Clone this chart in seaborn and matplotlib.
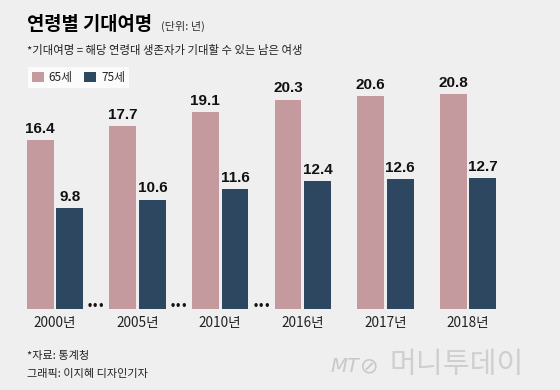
import pandas as pd
import matplotlib.pyplot as plt
import seaborn as sns
from matplotlib.patches import Patch

# data
years = ['2000년', '2005년', '2010년', '2016년', '2017년', '2018년']
age65 = [16.4, 17.7, 19.1, 20.3, 20.6, 20.8]
age75 = [9.8, 10.6, 11.6, 12.4, 12.6, 12.7]
groups = ['65세', '75세']
colors = {'65세': '#c49a9f', '75세': '#2e4760'}

df = pd.DataFrame({
    'year': years * 2,
    'age': [groups[0]] * len(years) + [groups[1]] * len(years),
    'value': age65 + age75,
})

sns.set_style('white')
plt.rcParams['font.family'] = ['Noto Sans CJK KR', 'DejaVu Sans']
bg = '#efefef'

fig = plt.figure(figsize=(5.6, 3.9), dpi=100, facecolor=bg)
ax = fig.add_axes([13.7 / 560, 81 / 390, 495.6 / 560, 227 / 390])
ax.set_facecolor(bg)

sns.barplot(data=df, x='year', y='value', hue='age', palette=colors,
            width=0.72, gap=0.1, ax=ax, legend=False, saturation=1,
            linewidth=0, edgecolor='none')

for c in ax.containers:
    ax.bar_label(c, fmt='%.1f', padding=3, fontsize=11, fontweight='bold',
                 family='Liberation Sans', color='#111111')

# dots between non-consecutive years
for i in range(3):
    ax.text(i + 0.5, 0, '•••', ha='center', va='baseline', fontsize=7,
            fontweight='bold', color='#111111', family='DejaVu Sans')

ax.set_xlim(-0.5, len(years) - 0.5)
ax.set_ylim(0, 22)
ax.set_xlabel('')
ax.set_ylabel('')
ax.set_yticks([])
ax.tick_params(axis='x', length=0, pad=5, labelsize=9.8, labelcolor='#222222')
sns.despine(ax=ax, left=True, bottom=True)

# title block
fig.text(27 / 560, 1 - 24 / 390, '연령별 기대여명', fontsize=13.5, fontweight='heavy',
         va='center', ha='left', color='#000000')
fig.text(161 / 560, 1 - 26 / 390, '(단위: 년)', fontsize=8, va='center',
         ha='left', color='#333333')
fig.text(27 / 560, 1 - 50 / 390, '*기대여명 = 해당 연령대 생존자가 기대할 수 있는 남은 여생',
         fontsize=8.2, va='center', ha='left', color='#222222')

handles = [Patch(facecolor=colors[g], edgecolor='none', label=g) for g in groups]
leg = fig.legend(handles=handles, loc='upper left', ncol=2,
                 bbox_to_anchor=(28 / 560, 1 - 67 / 390), frameon=True,
                 fancybox=False, borderaxespad=0, fontsize=8.5,
                 handlelength=1.0, handleheight=1.0, handletextpad=0.4,
                 columnspacing=1.0, borderpad=0.35)
leg.get_frame().set_facecolor('white')
leg.get_frame().set_edgecolor('none')

# footer
fig.text(27 / 560, 1 - 356 / 390, '*자료: 통계청', fontsize=8, va='center',
         ha='left', color='#222222')
fig.text(27 / 560, 1 - 374 / 390, '그래픽: 이지혜 디자인기자', fontsize=8,
         va='center', ha='left', color='#222222')
fig.text(330 / 560, 1 - 366 / 390, 'MT', fontsize=14, style='italic',
         va='center', ha='left', color='#c8c8c8', family='DejaVu Sans')
fig.text(360 / 560, 1 - 366 / 390, '⊘', fontsize=16, va='center', ha='left',
         color='#c8c8c8', family='DejaVu Sans')
fig.text(390 / 560, 1 - 365 / 390, '머니투데이', fontsize=21, va='center',
         ha='left', color='#cfcfcf')

fig.savefig('out.png', dpi=100, facecolor=bg)
